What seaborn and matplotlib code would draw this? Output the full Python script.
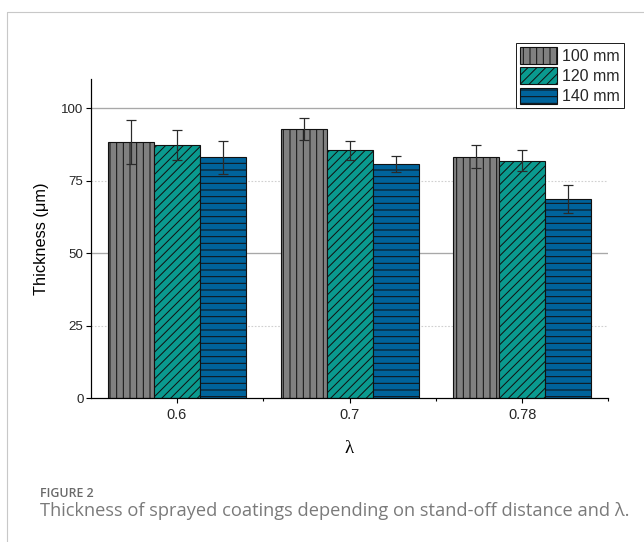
import numpy as np
import pandas as pd
import matplotlib
matplotlib.use("Agg")
import matplotlib.pyplot as plt
import seaborn as sns
from matplotlib.lines import Line2D

# ---- data ----
lambdas = ["0.6", "0.7", "0.78"]
distances = ["100 mm", "120 mm", "140 mm"]
thick_100 = [88.4, 92.9, 83.3]
thick_120 = [87.2, 85.4, 81.9]
thick_140 = [83.1, 80.6, 68.8]
err_100 = [7.6, 3.8, 3.8]
err_120 = [5.1, 3.3, 3.6]
err_140 = [5.7, 2.8, 4.8]
y_ticks = [0, 25, 50, 75, 100]
grid_solid = [50, 100]
grid_dotted = [25, 75]

colors = ["#808080", "#0a9a8f", "#00639b"]
hatches = ["||", "///", "--"]

values = [thick_100, thick_120, thick_140]
errors = [err_100, err_120, err_140]
rows = []
for d, vals in zip(distances, values):
    for lam, v in zip(lambdas, vals):
        rows.append({"lam": lam, "dist": d, "thick": v})
df = pd.DataFrame(rows)

sns.set_theme(style="white")
plt.rcParams["font.family"] = ["Liberation Sans", "DejaVu Sans"]
plt.rcParams["hatch.linewidth"] = 0.9

DPI = 80
fig = plt.figure(figsize=(644 / DPI, 542 / DPI), dpi=DPI)
ax = fig.add_axes([0.1408, 0.2651, 0.9447 - 0.1408, 0.8542 - 0.2651])

sns.barplot(data=df, x="lam", y="thick", hue="dist", order=lambdas,
            hue_order=distances, palette=colors, errorbar=None, width=0.8,
            edgecolor="#111111", linewidth=1.0, saturation=1, legend=False,
            ax=ax, zorder=2)

for cont, h, errs in zip(ax.containers, hatches, errors):
    xs = []
    ys = []
    for p in cont.patches:
        p.set_hatch(h)
        p.set_edgecolor("#111111")
        xs.append(p.get_x() + p.get_width() / 2)
        ys.append(p.get_height())
    ax.errorbar(xs, ys, yerr=errs, fmt="none", ecolor="#2a2a2a",
                elinewidth=1.1, capsize=4.5, capthick=1.1, zorder=3)

for g in grid_solid:
    ax.axhline(g, color="#a8a8a8", lw=1.2, zorder=0)
for g in grid_dotted:
    ax.axhline(g, color="#d0d0d0", lw=1.0, ls=(0, (1.5, 1.5)), zorder=0)

ax.set_xlim(-0.5, 2.5)
ax.set_ylim(0, 110)
ax.set_yticks(y_ticks)
ax.set_xticks(range(len(lambdas)))
ax.set_xticklabels(lambdas)
ax.set_xticks([0.5, 1.5, 2.5], minor=True)

for s in ["top", "right"]:
    ax.spines[s].set_visible(False)
for s in ["left", "bottom"]:
    ax.spines[s].set_color("black")
    ax.spines[s].set_linewidth(1.1)

ax.tick_params(axis="y", which="major", direction="out", length=4.5, width=1,
               color="black", labelsize=12, pad=2, left=True)
ax.tick_params(axis="x", which="major", direction="out", length=4.5, width=1,
               color="black", labelsize=13, pad=4, bottom=True)
ax.tick_params(axis="x", which="minor", direction="out", length=2.5, width=1,
               color="black", bottom=True)
ax.grid(False)

ax.set_ylabel("Thickness (μm)", fontsize=14.7, color="black")
ax.yaxis.set_label_coords(-0.08, 0.5)
ax.set_xlabel("λ", fontsize=17, color="black", family=["Liberation Serif", "DejaVu Serif"])
ax.xaxis.set_label_coords(0.5, -0.13)

leg = ax.legend(ax.containers, distances, loc="upper right",
                bbox_to_anchor=(624 / 644, 1 - 43.3 / 542),
                bbox_transform=fig.transFigure, fontsize=14.4,
                handlelength=2.3, handleheight=1.2, labelspacing=0.22,
                handletextpad=0.35, borderpad=0.25, borderaxespad=0,
                frameon=True, fancybox=False, framealpha=1)
leg.get_frame().set_edgecolor("#222222")
leg.get_frame().set_linewidth(0.9)

# page frame
fig.add_artist(Line2D([7 / 644, 7 / 644], [0, 1 - 12 / 542], transform=fig.transFigure,
                      color="#c8c8c8", lw=1.0))
fig.add_artist(Line2D([7 / 644, 1], [1 - 12 / 542, 1 - 12 / 542], transform=fig.transFigure,
                      color="#c8c8c8", lw=1.0))

fig.text(40 / 644, 1 - 497 / 542, "FIGURE 2", fontsize=11.2, color="#6a6a6a",
         family=["Open Sans", "DejaVu Sans"], weight="semibold", va="baseline")
fig.text(40 / 644, 1 - 515.5 / 542,
         "Thickness of sprayed coatings depending on stand-off distance and λ.",
         fontsize=16.4, color="#7a7a7a", family=["Open Sans", "DejaVu Sans"],
         va="baseline")

fig.savefig("out.png", dpi=DPI)
